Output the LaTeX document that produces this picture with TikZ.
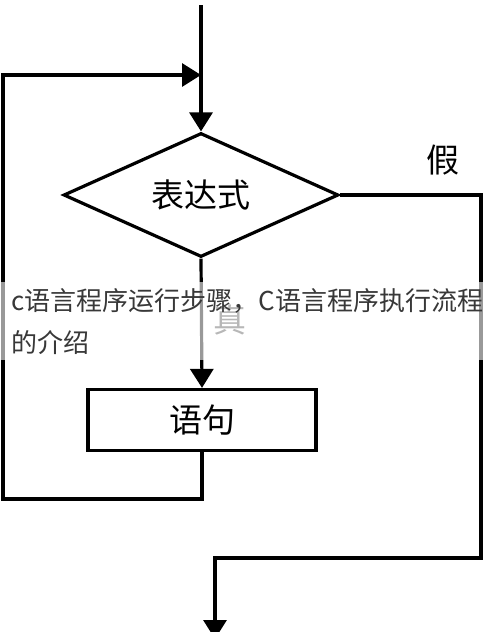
\documentclass[tikz,border=0pt]{standalone}
\usepackage{fontspec}
\newfontfamily\cjk{Noto Sans CJK SC}
\usetikzlibrary{shapes.geometric,arrows.meta}
\begin{document}
\begin{tikzpicture}[x=1pt,y=-1pt,
    flow/.style={line width=3.2pt},
    flowarrow/.style={flow,-{Triangle[width=23pt,length=19pt]}},
    bigtext/.style={font=\cjk\fontsize{33}{33}\selectfont}]
  \useasboundingbox (0,0) rectangle (490,632);
  \node[draw,flow,diamond,aspect=2.2,inner sep=0,minimum width=275pt,minimum height=124pt,bigtext] (expr) at (201,195) {表达式};
  \node[draw,flow,inner sep=0,minimum width=228pt,minimum height=61pt,bigtext] (stmt) at (202,420) {语句};
  \node[bigtext] (false) at (443,160) {假};
  \node[bigtext,text=black!70] (true) at (230,320) {真};
  \coordinate (start) at (201,5);
  \coordinate (join) at (201,75);
  \coordinate (loopL) at (3,499);
  \coordinate (exitR) at (481,558);
  \coordinate (out) at (215,639);
  \draw[flowarrow] (start) -- (expr.north);
  \draw[flowarrow] (expr.south) -- (stmt.north);
  \draw[flowarrow] (stmt.south) |- (loopL) |- (join);
  \draw[flowarrow] (expr.east) -| (exitR) -| (out);
  % caption band over the picture
  \node[anchor=north west,fill=white,fill opacity=0.6,text opacity=1,text=black!78,
    text width=478pt,inner xsep=11pt,inner ysep=6pt,align=left,
    font=\cjk\fontsize{26}{42}\selectfont] (caption) at (0,282)
    {c语言程序运行步骤，C语言程序执行流程\\的介绍};
\end{tikzpicture}
\end{document}
